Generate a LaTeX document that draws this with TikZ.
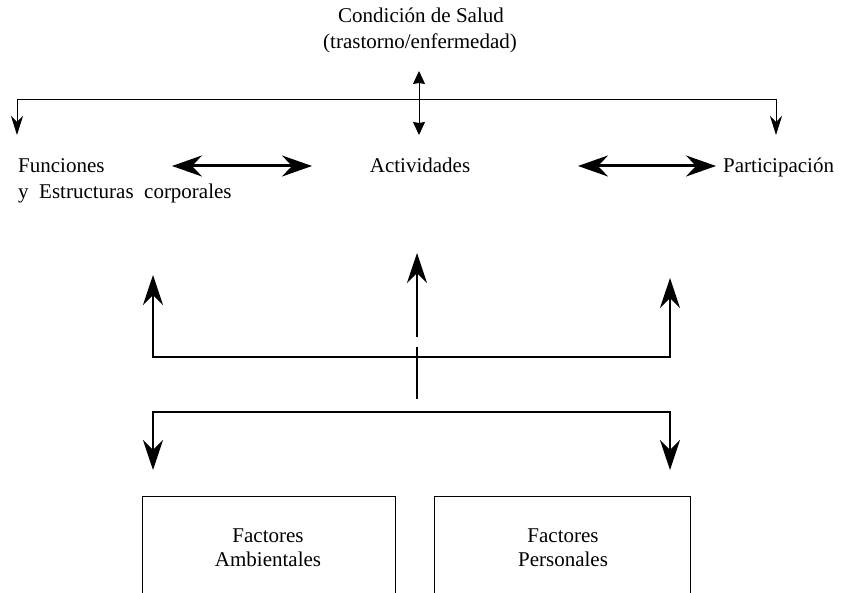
\documentclass[tikz,border=0pt]{standalone}
\usepackage{fontspec}
\setmainfont{Liberation Serif}
\usetikzlibrary{arrows.meta}
\begin{document}
\begin{tikzpicture}[x=1pt,y=-1pt,
  lbl/.style={font=\fontsize{21}{24}\selectfont, inner sep=0pt},
  sidetip/.tip={Stealth[length=19pt,width=12pt,inset=6pt]},
  ctrtip/.tip={Stealth[length=13pt,width=12pt,inset=1pt]},
  bigtip/.tip={Stealth[length=30pt,width=21pt,inset=10pt]},
  midtip/.tip={Stealth[length=30pt,width=20pt,inset=10pt]},
  thinline/.style={line width=0.9pt},
  thickline/.style={line width=3pt},
  midline/.style={line width=2.5pt},
  boxstyle/.style={draw, line width=1pt, inner sep=0pt, anchor=north west}]
\useasboundingbox (0,0) rectangle (842,593);
\clip (0,0) rectangle (842,593);

% texts
\node[lbl, anchor=base] (cs) at (421,23) {Condición de Salud};
\node[lbl, anchor=base] (cs2) at (420,49) {(trastorno/enfermedad)};
\node[lbl, anchor=base west] (fun) at (18,173) {Funciones};
\node[lbl, anchor=base west] (est) at (18,199) {y\ \ Estructuras\ \ corporales};
\node[lbl, anchor=base] (act) at (420,173) {Actividades};
\node[lbl, anchor=base west] (par) at (723,173) {Participación};

% top connectors
\coordinate (ctop) at (419,71);
\coordinate (cbot) at (419,135);
\coordinate (lbot) at (17,135);
\coordinate (ljoin) at (17,99);
\coordinate (rjoin) at (776,99);
\coordinate (rbot) at (776,135);
\draw[thinline, {ctrtip}-{ctrtip}] (ctop) -- (cbot);
\draw[thinline, {sidetip}-{sidetip}] (lbot) -- (ljoin) -- (rjoin) -- (rbot);

% thick horizontal arrows
\coordinate (a1) at (172,166);
\coordinate (a2) at (312,166);
\coordinate (b1) at (578,166);
\coordinate (b2) at (716,166);
\draw[thickline, {bigtip}-{bigtip}] (a1) -- (a2);
\draw[thickline, {bigtip}-{bigtip}] (b1) -- (b2);

% middle upward arrows
\coordinate (lup) at (153,275);
\coordinate (lj) at (153,357);
\coordinate (rj) at (670,357);
\coordinate (rup) at (670,278);
\draw[midline, line join=miter, {midtip}-{midtip}] (lup) -- (lj) -- (rj) -- (rup);
\coordinate (cup) at (417,253);
\coordinate (cgap) at (417,337);
\coordinate (cres) at (417,347);
\coordinate (cend) at (417,399);
\draw[midline, -{midtip}] (cgap) -- (cup);
\draw[midline] (cres) -- (cend);

% lower downward arrows
\coordinate (ldn) at (153,470);
\coordinate (lj2) at (153,412);
\coordinate (rj2) at (670,412);
\coordinate (rdn) at (670,470);
\draw[midline, line join=miter, {midtip}-{midtip}] (ldn) -- (lj2) -- (rj2) -- (rdn);

% boxes
\node[boxstyle, minimum width=253pt, minimum height=140pt] (amb) at (142,496) {};
\node[boxstyle, minimum width=256pt, minimum height=140pt] (per) at (434,496) {};
\node[lbl, anchor=base] (f1) at (268,542) {Factores};
\node[lbl, anchor=base] (f2) at (268,566) {Ambientales};
\node[lbl, anchor=base] (f3) at (563,542) {Factores};
\node[lbl, anchor=base] (f4) at (563,566) {Personales};
\end{tikzpicture}
\end{document}
